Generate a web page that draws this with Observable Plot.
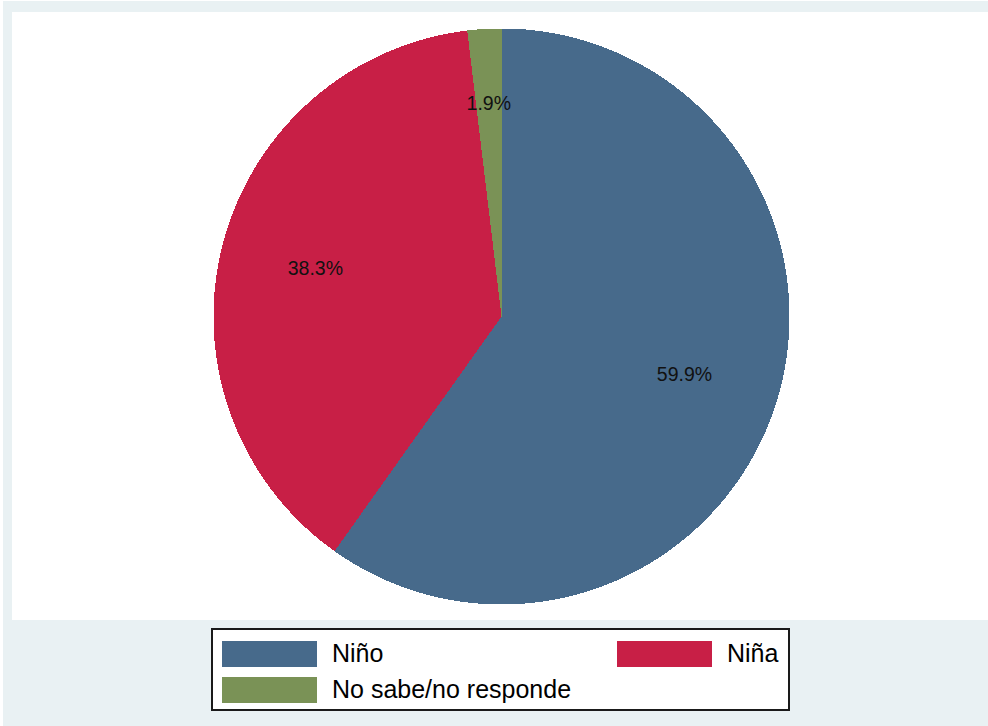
<!DOCTYPE html>
<html>
<head>
<meta charset="utf-8">
<script src="https://cdn.jsdelivr.net/npm/d3@7"></script>
<script src="https://cdn.jsdelivr.net/npm/@observablehq/plot@0.6"></script>
<style>
  html, body { margin: 0; padding: 0; background: #ffffff; }
  body { width: 988px; height: 726px; position: relative; overflow: hidden; font-family: "Liberation Sans", Arial, sans-serif; }
  #bg { position: absolute; left: 3px; top: 1px; width: 985px; height: 725px; background: #e9f1f3; }
  #plotarea { position: absolute; left: 12px; top: 12px; width: 976px; height: 608px; background: #ffffff; }
  #chart { position: absolute; left: 0; top: 0; }
  #legend { position: absolute; left: 211px; top: 628px; width: 575px; height: 79px; border: 2px solid #1a1a1a; background: #fff; }
  .item { position: absolute; display: flex; align-items: center; font-size: 25px; color: #000; }
  .sw { width: 95px; height: 26px; margin-right: 15px; }
</style>
</head>
<body>
<div id="bg"></div>
<div id="plotarea"></div>
<div id="chart"></div>
<div id="legend"></div>
<script>
const categories = ["Niño", "Niña", "No sabe/no responde"];
const shares = [59.9, 38.3, 1.9];
const colors = ["#476a8b", "#c81f46", "#7a9256"];
const labels = ["59.9%", "38.3%", "1.9%"];

const arcs = d3.pie().sort(null).value(d => d)(shares);

// polygon outline of each slice (center + arc), in unit-circle coordinates
const poly = [];
arcs.forEach((a, i) => {
  poly.push({cat: categories[i], x: 0, y: 0});
  const n = Math.max(2, Math.ceil((a.endAngle - a.startAngle) / (Math.PI / 720)));
  for (let k = 0; k <= n; k++) {
    const t = a.startAngle + (a.endAngle - a.startAngle) * k / n;
    poly.push({cat: categories[i], x: Math.sin(t), y: Math.cos(t)});
  }
});

const labelPos = arcs.map((a, i) => {
  const m = (a.startAngle + a.endAngle) / 2;
  const r = shares[i] < 5 ? 0.74 : 0.667;
  return {text: labels[i], x: r * Math.sin(m), y: r * Math.cos(m)};
});

const chart = Plot.plot({
  width: 988,
  height: 620,
  marginLeft: 213,
  marginRight: 199,
  marginTop: 28,
  marginBottom: 16,
  x: {domain: [-1, 1], axis: null},
  y: {domain: [-1, 1], axis: null},
  color: {domain: categories, range: colors},
  style: {background: "transparent", fontFamily: "'Liberation Sans', Arial, sans-serif"},
  marks: [
    Plot.line(poly, {x: "x", y: "y", z: "cat", fill: "cat", stroke: null, curve: "linear-closed", shapeRendering: "crispEdges"}),
    Plot.text(labelPos, {x: "x", y: "y", text: "text", fontSize: 19.5, fill: "#111"})
  ]
});
document.getElementById("chart").appendChild(chart);

// legend
const legend = document.getElementById("legend");
const pos = [[9, 9], [404, 9], [9, 45]];
categories.forEach((c, i) => {
  const it = document.createElement("div");
  it.className = "item";
  it.style.left = pos[i][0] + "px";
  it.style.top = pos[i][1] + "px";
  const sw = document.createElement("div");
  sw.className = "sw";
  sw.style.background = colors[i];
  const tx = document.createElement("span");
  tx.textContent = c;
  it.appendChild(sw);
  it.appendChild(tx);
  legend.appendChild(it);
});
</script>
</body>
</html>
